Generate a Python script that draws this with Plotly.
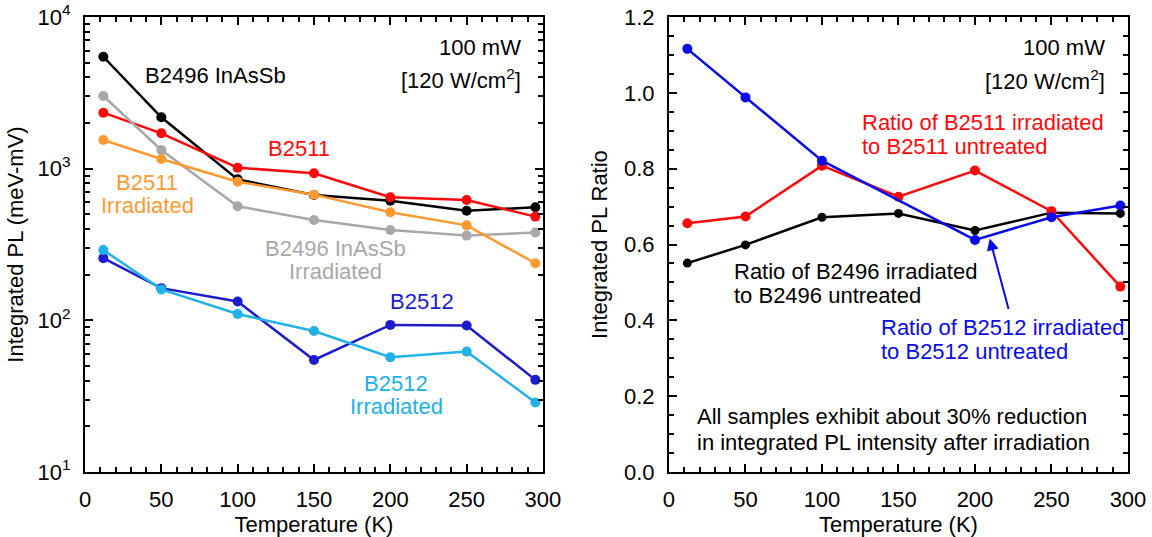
import math
import plotly.graph_objects as go
from plotly.subplots import make_subplots

# Temperatures (K)
temperature = [12, 50, 100, 150, 200, 250, 295]

# Integrated PL (meV-mV)
b2496 = [5470, 2180, 850, 670, 615, 528, 556]
b2496_irr = [3015, 1328, 565, 459, 394, 362, 379]
b2511 = [2340, 1710, 1015, 933, 648, 622, 483]
b2511_irr = [1546, 1158, 821, 674, 516, 423, 238]
b2512 = [257, 163, 133, 54.8, 93.3, 92.5, 40.5]
b2512_irr = [291, 160, 110, 85.1, 57.1, 62.2, 28.7]

# Irradiated / untreated ratios (B2512 has no ratio at 150 K)
ratio_b2496 = [0.551, 0.599, 0.672, 0.682, 0.637, 0.684, 0.682]
ratio_b2511 = [0.656, 0.674, 0.808, 0.726, 0.795, 0.688, 0.489]
ratio_b2512 = [1.116, 0.988, 0.821, None, 0.612, 0.672, 0.703]

log_tickvals = [10, 100, 1000, 10000]
log_ticktext = ["10<sup>1</sup>", "10<sup>2</sup>", "10<sup>3</sup>", "10<sup>4</sup>"]
log_minor = [k * 10 ** e for e in range(1, 4) for k in range(2, 10)]

FONT = "Liberation Sans, Arial, sans-serif"
FS = 22

BLACK = "#000000"
RED = "#ff0a0a"
ORANGE = "#ff9a33"
GRAY = "#a8a8a8"
DARKBLUE = "#1c1ccc"
LIGHTBLUE = "#22b0e8"
BLUE = "#0a0aeb"

fig = make_subplots(rows=1, cols=2, horizontal_spacing=0.12)


def add_series(x, y, color, col, size=10, width=2.5):
    fig.add_trace(
        go.Scatter(
            x=x, y=y, mode="lines+markers", connectgaps=True,
            line=dict(color=color, width=width),
            marker=dict(color=color, size=size),
            showlegend=False, hoverinfo="skip",
        ),
        row=1, col=col,
    )


# Left panel: integrated PL vs temperature
add_series(temperature, b2496, BLACK, 1)
add_series(temperature, b2511, RED, 1)
add_series(temperature, b2496_irr, GRAY, 1)
add_series(temperature, b2511_irr, ORANGE, 1)
add_series(temperature, b2512, DARKBLUE, 1)
add_series(temperature, b2512_irr, LIGHTBLUE, 1)

# Right panel: ratios
add_series(temperature, ratio_b2496, BLACK, 2, size=9)
add_series(temperature, ratio_b2511, RED, 2)
add_series(temperature, ratio_b2512, BLUE, 2)

axis_common = dict(
    showline=True, linecolor="black", linewidth=2, mirror="allticks",
    ticks="inside", ticklen=8, tickwidth=2, tickcolor="black",
    showgrid=False, zeroline=False, automargin=False,
    tickfont=dict(family=FONT, size=FS, color="black"),
)

x_common = dict(
    axis_common, range=[0, 300], tick0=0, dtick=50,
    ticklabelstandoff=7,
    minor=dict(ticks="inside", ticklen=5, tickwidth=1.5, tickcolor="black", dtick=10),
    title=dict(text="Temperature (K)", font=dict(family=FONT, size=FS, color="black"), standoff=2),
)

fig.update_xaxes(x_common, row=1, col=1)
fig.update_xaxes(x_common, row=1, col=2)

fig.update_yaxes(
    axis_common, type="log", range=[1, 4],
    tickvals=log_tickvals, ticktext=log_ticktext, ticklabelstandoff=8,
    minor=dict(ticks="inside", ticklen=5, tickwidth=1.5, tickcolor="black", tickvals=log_minor),
    title=dict(text="Integrated PL (meV-mV)", font=dict(family=FONT, size=FS, color="black"), standoff=8),
    row=1, col=1,
)
fig.update_yaxes(
    axis_common, range=[0, 1.2], tick0=0, dtick=0.2, tickformat=".1f", ticklabelstandoff=8,
    minor=dict(ticks="inside", ticklen=5, tickwidth=1.5, tickcolor="black", dtick=0.05),
    title=dict(text="Integrated PL Ratio", font=dict(family=FONT, size=FS, color="black"), standoff=10),
    row=1, col=2,
)


def label(lines, x, y, color, xref, yref, xanchor="center", spacing=24):
    """Place a (possibly multi-line) label centred vertically on y with a fixed line pitch."""
    n = len(lines)
    for i, line in enumerate(lines):
        fig.add_annotation(
            text=line, x=x, y=y, xref=xref, yref=yref, showarrow=False,
            xanchor=xanchor, yanchor="middle",
            yshift=((n - 1) / 2 - i) * spacing,
            font=dict(family=FONT, size=FS, color=color),
        )


L = math.log10
# Left panel labels
label(["100 mW"], 287, L(6340), BLACK, "x", "y", xanchor="right")
label(["[120 W/cm<sup>2</sup>]"], 287, L(3900), BLACK, "x", "y", xanchor="right")
label(["B2496 InAsSb"], 38, L(4125), BLACK, "x", "y", xanchor="left")
label(["B2511"], 140, L(1355), RED, "x", "y")
label(["B2511", "Irradiated"], 40.7, L(678), ORANGE, "x", "y", spacing=23)
label(["B2496 InAsSb", "Irradiated"], 164, L(249), GRAY, "x", "y", spacing=23)
label(["B2512"], 221, L(133.6), DARKBLUE, "x", "y")
label(["B2512", "Irradiated"], 204, L(32.3), LIGHTBLUE, "x", "y", spacing=23)

# Right panel labels
label(["100 mW"], 286.6, 1.12, BLACK, "x2", "y2", xanchor="right")
label(["[120 W/cm<sup>2</sup>]"], 286.6, 1.033, BLACK, "x2", "y2", xanchor="right")
label(["Ratio of B2511 irradiated", "to B2511 untreated"], 125, 0.891, RED, "x2", "y2", xanchor="left")
label(["Ratio of B2496 irradiated", "to B2496 untreated"], 41.3, 0.497, BLACK, "x2", "y2", xanchor="left")
label(["Ratio of B2512 irradiated", "to B2512 untreated"], 137, 0.350, BLUE, "x2", "y2", xanchor="left")
label(["All samples exhibit about 30% reduction", "in integrated PL intensity after irradiation"],
      17.0, 0.113, BLACK, "x2", "y2", xanchor="left", spacing=26)

# Arrow pointing to the B2512 ratio curve
fig.add_annotation(
    x=209.6, y=0.616, ax=222.2, ay=0.426, xref="x2", yref="y2", axref="x2", ayref="y2",
    text="", showarrow=True, arrowhead=2, arrowsize=1.2, arrowwidth=2, arrowcolor=BLUE,
)

fig.update_layout(
    width=1152, height=537,
    margin=dict(l=85, r=24, t=17, b=65),
    paper_bgcolor="white", plot_bgcolor="white",
    font=dict(family=FONT, size=FS, color="black"),
)
fig.update_xaxes(domain=[0, 0.4391], row=1, col=1)
fig.update_xaxes(domain=[0.5599, 1.0], row=1, col=2)

fig.write_html("out.html")
